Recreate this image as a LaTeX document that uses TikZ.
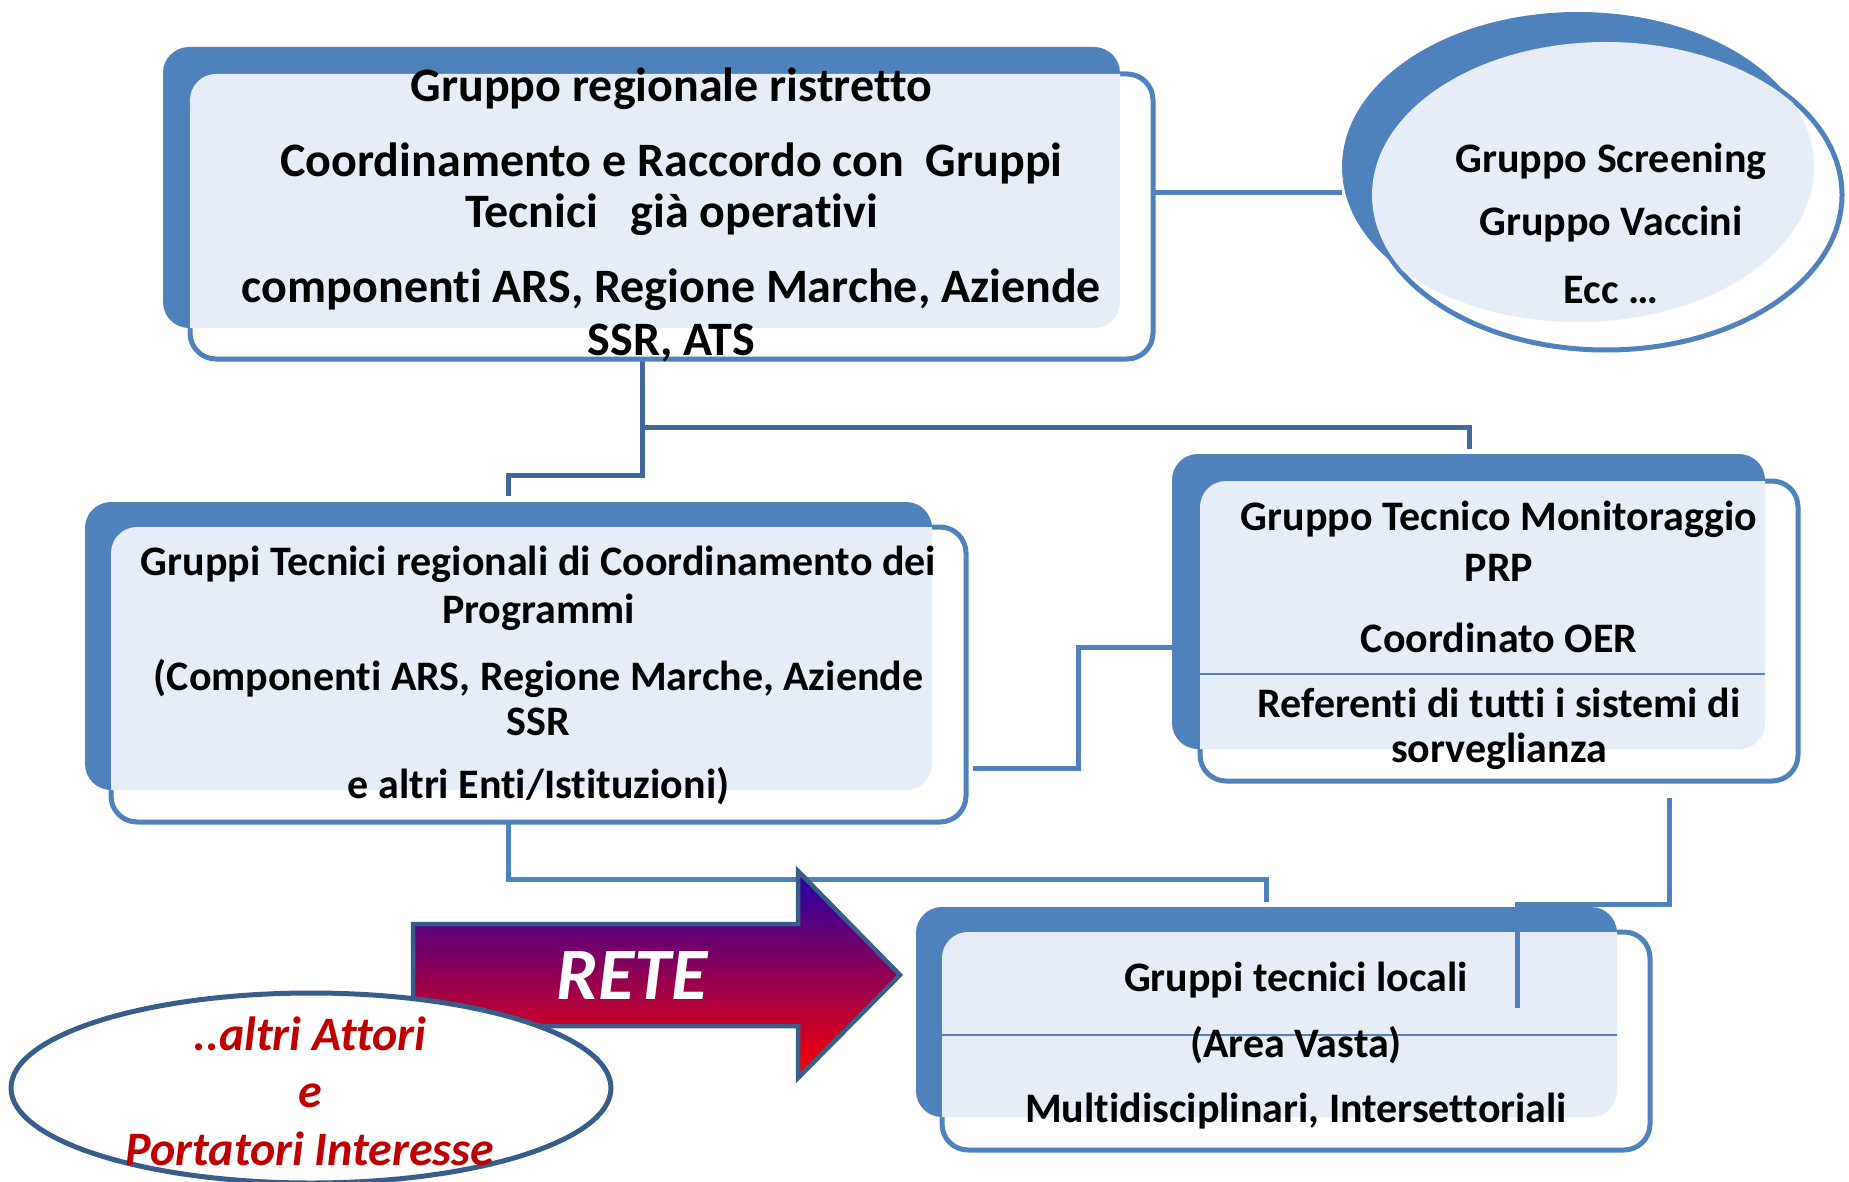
\documentclass[tikz,border=0pt]{standalone}
\usepackage{fontspec}
\setmainfont{Carlito}[RawFeature={-liga;-clig;-calt}]
\usetikzlibrary{shapes.geometric,calc}
\definecolor{bblue}{HTML}{4F81BD}
\definecolor{cblue}{HTML}{41699B}
\definecolor{patt}{HTML}{E6EDF6}
\definecolor{dkblue}{HTML}{385D8A}
\definecolor{dred}{HTML}{C00000}
\definecolor{arrtop}{HTML}{2000A8}
\definecolor{arrmid}{HTML}{A00088}
\definecolor{arrbot}{HTML}{FF0000}
\begin{document}
\begin{tikzpicture}[x=1pt,y=-1pt,
  backbox/.style={draw=none,inner sep=0pt,outer sep=0pt},
  frontbox/.style={draw=none,inner sep=0pt,outer sep=0pt},
  pattfill/.style={fill=patt,rounded corners=26pt},
  conn/.style={draw=bblue,line width=5pt},
  conndk/.style={draw=cblue,line width=5pt},
  sepline/.style={draw=bblue,line width=1.2pt},
  tA/.style={anchor=base,inner sep=0pt,font=\fontsize{48}{53}\selectfont\bfseries},
  tB/.style={anchor=base,inner sep=0pt,font=\fontsize{42}{47}\selectfont\bfseries},
  tR/.style={anchor=base,inner sep=0pt,text=dred,font=\fontsize{48}{53}\selectfont\bfseries\itshape},
  ]
\useasboundingbox (0,0) rectangle (1849,1182);

% ---------- shape nodes (positions only, drawn below in order) ----------
\path
  node[backbox,minimum width=957pt,minimum height=281pt] (k1) at (641.5,187.5) {}
  node[backbox,minimum width=847pt,minimum height=288pt] (k2) at (508.5,646) {}
  node[backbox,minimum width=593pt,minimum height=295pt] (k3) at (1468.5,601.5) {}
  node[backbox,minimum width=701pt,minimum height=210pt] (k4) at (1266.5,1012) {}
  node[ellipse,inner sep=0pt,outer sep=0pt,minimum width=472pt,minimum height=310pt] (ke) at (1578,167) {}
  node[frontbox,minimum width=963pt,minimum height=285pt] (f1) at (671.5,216.5) {}
  node[frontbox,minimum width=855pt,minimum height=295pt] (f2) at (538.5,674.5) {}
  node[frontbox,minimum width=598pt,minimum height=300pt] (f3) at (1499,631) {}
  node[frontbox,minimum width=708pt,minimum height=218pt] (f4) at (1296,1041) {};

% ---------- connectors behind the boxes ----------
\coordinate (j1) at (642,427);
\draw[conn] (f1.east |- 0,193) -- (ke.west |- 0,193);
\draw[conndk,shorten >=6pt] (f1.south -| 642,0) |- (508,475) -- (k2.north -| 508,0);
\draw[conndk,shorten >=5pt] (j1) -| (k3.north -| 1469,0);
\draw[conn,shorten <=7pt] (f2.east |- 0,768) -| (1078,647) -- (k3.west |- 0,647);
\draw[conn,shorten >=5pt] (f2.south -| 508,0) |- (1266,879) -- (k4.north -| 1266,0);

% ---------- box 1 ----------
\fill[bblue,rounded corners=26pt] (k1.south west) rectangle (k1.north east);
\fill[white,rounded corners=26pt] (f1.south west) rectangle (f1.north east);
\draw[bblue,line width=5pt,rounded corners=26pt] (f1.south west) rectangle (f1.north east);
\begin{scope}
  \clip[rounded corners=26pt] (k1.south west) rectangle (k1.north east);
  \fill[pattfill] (f1.south west) rectangle (f1.north east);
\end{scope}

% ---------- ellipse top right ----------
\fill[bblue] (ke.center) ellipse [x radius=236, y radius=155];
\node[ellipse,fill=white,draw=bblue,line width=5pt,inner sep=0pt,outer sep=0pt,minimum width=472pt,minimum height=310pt] (fe) at (1606,195) {};
\begin{scope}
  \clip (ke.center) ellipse [x radius=236, y radius=155];
  \fill[patt] (fe.center) ellipse [x radius=234, y radius=153];
\end{scope}

% ---------- box 2 ----------
\fill[bblue,rounded corners=26pt] (k2.south west) rectangle (k2.north east);
\fill[white,rounded corners=26pt] (f2.south west) rectangle (f2.north east);
\draw[bblue,line width=5pt,rounded corners=26pt] (f2.south west) rectangle (f2.north east);
\begin{scope}
  \clip[rounded corners=26pt] (k2.south west) rectangle (k2.north east);
  \fill[pattfill] (f2.south west) rectangle (f2.north east);
\end{scope}

% ---------- box 3 ----------
\fill[bblue,rounded corners=26pt] (k3.south west) rectangle (k3.north east);
\fill[white,rounded corners=26pt] (f3.south west) rectangle (f3.north east);
\draw[bblue,line width=5pt,rounded corners=26pt] (f3.south west) rectangle (f3.north east);
\begin{scope}
  \clip[rounded corners=26pt] (k3.south west) rectangle (k3.north east);
  \fill[pattfill] (f3.south west) rectangle (f3.north east);
\end{scope}
\draw[sepline] (f3.west |- 0,674) -- (k3.east |- 0,674);

% ---------- box 4 ----------
\fill[bblue,rounded corners=26pt] (k4.south west) rectangle (k4.north east);
\fill[white,rounded corners=26pt] (f4.south west) rectangle (f4.north east);
\draw[bblue,line width=5pt,rounded corners=26pt] (f4.south west) rectangle (f4.north east);
\begin{scope}
  \clip[rounded corners=26pt] (k4.south west) rectangle (k4.north east);
  \fill[pattfill] (f4.south west) rectangle (f4.north east);
\end{scope}
\draw[sepline] (f4.west |- 0,1035) -- (k4.east |- 0,1035);

% connector drawn over box 4
\draw[conn,shorten <=17pt] (f3.south -| 1669,0) |- (1517,904) -- (1517,1008);

% ---------- RETE arrow ----------
\shadedraw[top color=arrtop,middle color=arrmid,bottom color=arrbot,draw=dkblue,line width=4.5pt]
  (413,924) -- (798,924) -- (798,871) -- (900,975) -- (798,1078) -- (798,1026) -- (413,1026) -- cycle;
\node[anchor=base,inner sep=0pt,text=white,font=\fontsize{74}{80}\selectfont\bfseries\itshape] (rete) at (632,999) {RETE};

% ---------- ellipse bottom left ----------
\node[ellipse,fill=white,draw=dkblue,line width=5pt,inner sep=0pt,outer sep=0pt,minimum width=600pt,minimum height=190pt] (ea) at (311,1088) {};

% ---------- texts ----------
\node[tA] (t1a) at (671.5,102) {Gruppo regionale ristretto};
\node[tA] (t1b) at (671.5,177) {Coordinamento e Raccordo con\ \ Gruppi};
\node[tA] (t1c) at (671.5,228) {Tecnici\ \ \ già operativi};
\node[tA] (t1d) at (671.5,302) {componenti ARS, Regione Marche, Aziende};
\node[tA] (t1e) at (671.5,355) {SSR, ATS};

\node[tB] (tea) at (1611,173) {Gruppo Screening};
\node[tB] (teb) at (1611,236) {Gruppo Vaccini};
\node[tB] (tec) at (1611,303) {Ecc …};

\node[tB] (t2a) at (538.5,575) {Gruppi Tecnici regionali di Coordinamento dei};
\node[tB] (t2b) at (538.5,623) {Programmi};
\node[tB] (t2c) at (538.5,690) {(Componenti ARS, Regione Marche, Aziende};
\node[tB] (t2d) at (538.5,735) {SSR};
\node[tB] (t2e) at (538.5,798) {e altri Enti/Istituzioni)};

\node[tB] (t3a) at (1499,530) {Gruppo Tecnico Monitoraggio};
\node[tB] (t3b) at (1499,581) {PRP};
\node[tB] (t3c) at (1499,652) {Coordinato OER};
\node[tB] (t3d) at (1499,717) {Referenti di tutti i sistemi di};
\node[tB] (t3e) at (1499,762) {sorveglianza};

\node[tB] (t4a) at (1296,991) {Gruppi tecnici locali};
\node[tB] (t4b) at (1296,1057) {(Area Vasta)};
\node[tB] (t4c) at (1296,1122) {Multidisciplinari, Intersettoriali};

\node[tR] (tra) at (310,1050) {..altri Attori};
\node[tR] (trb) at (310,1107) {e};
\node[tR] (trc) at (310,1165) {Portatori Interesse};
\end{tikzpicture}
\end{document}
